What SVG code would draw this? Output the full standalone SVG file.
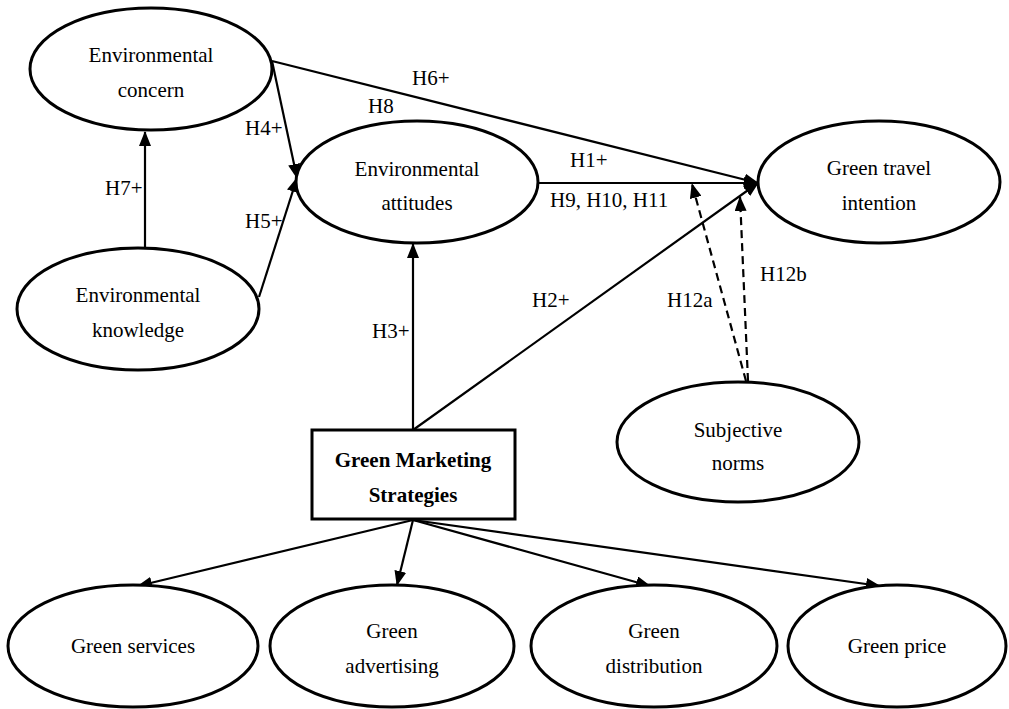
<svg xmlns="http://www.w3.org/2000/svg" width="1009" height="709" viewBox="0 0 1009 709">
<style>
.n{fill:#fff;stroke:#000;stroke-width:3}
.t{font-family:"Liberation Serif","Times New Roman",serif;font-size:21px;fill:#000;text-anchor:middle}
.l{font-family:"Liberation Serif","Times New Roman",serif;font-size:21px;fill:#000}
.c{fill:none;stroke:#000;stroke-width:2.2}
.d{stroke-dasharray:8 5}
</style>
<defs>
<marker id="ah" markerUnits="userSpaceOnUse" markerWidth="15" markerHeight="12" refX="14" refY="6" orient="auto">
<path d="M0,0 L15,6 L0,12 Z" fill="#000"/>
</marker>
</defs>
<rect width="1009" height="709" fill="#fff"/>
<g id="connectors">
<line class="c" x1="145" y1="248" x2="145" y2="132" marker-end="url(#ah)"/>
<line class="c" x1="272" y1="61" x2="297" y2="178" marker-end="url(#ah)"/>
<line class="c" x1="259" y1="297" x2="297" y2="178" marker-end="url(#ah)"/>
<line class="c" x1="272" y1="61" x2="758" y2="183" marker-end="url(#ah)"/>
<line class="c" x1="538" y1="183" x2="758" y2="183" marker-end="url(#ah)"/>
<line class="c" x1="413" y1="430" x2="758" y2="183" marker-end="url(#ah)"/>
<line class="c" x1="413" y1="430" x2="413" y2="244" marker-end="url(#ah)"/>
<line class="c d" x1="746" y1="381" x2="692" y2="184" marker-end="url(#ah)"/>
<line class="c d" x1="748" y1="381" x2="740" y2="197" marker-end="url(#ah)"/>
<line class="c" x1="413" y1="520" x2="138" y2="586" marker-end="url(#ah)"/>
<line class="c" x1="413" y1="520" x2="397" y2="585" marker-end="url(#ah)"/>
<line class="c" x1="413" y1="520" x2="650" y2="586" marker-end="url(#ah)"/>
<line class="c" x1="413" y1="520" x2="880" y2="586" marker-end="url(#ah)"/>
</g>
<g id="labels">
<text class="l" x="105" y="195">H7+</text>
<text class="l" x="245" y="135">H4+</text>
<text class="l" x="245" y="228">H5+</text>
<text class="l" x="412" y="85">H6+</text>
<text class="l" x="368" y="113">H8</text>
<text class="l" x="570" y="167">H1+</text>
<text class="l" x="550" y="207">H9, H10, H11</text>
<text class="l" x="532" y="307">H2+</text>
<text class="l" x="667" y="307">H12a</text>
<text class="l" x="760" y="281">H12b</text>
<text class="l" x="372" y="338">H3+</text>
</g>
<g id="env-concern">
<ellipse class="n" cx="151" cy="69" rx="121" ry="61"/>
<text class="t" x="151" y="62">Environmental</text>
<text class="t" x="151" y="97">concern</text>
</g>
<g id="env-knowledge">
<ellipse class="n" cx="138" cy="309" rx="121" ry="61"/>
<text class="t" x="138" y="302">Environmental</text>
<text class="t" x="138" y="337">knowledge</text>
</g>
<g id="env-attitudes">
<ellipse class="n" cx="417" cy="182" rx="121" ry="61"/>
<text class="t" x="417" y="176">Environmental</text>
<text class="t" x="417" y="210">attitudes</text>
</g>
<g id="green-travel-intention">
<ellipse class="n" cx="879" cy="182" rx="121" ry="61"/>
<text class="t" x="879" y="175">Green travel</text>
<text class="t" x="879" y="210">intention</text>
</g>
<g id="subjective-norms">
<ellipse class="n" cx="738" cy="442" rx="121" ry="60"/>
<text class="t" x="738" y="437">Subjective</text>
<text class="t" x="738" y="470">norms</text>
</g>
<g id="green-marketing-strategies">
<rect class="n" x="312" y="430" width="203" height="89"/>
<text class="t" x="413" y="467" font-weight="bold">Green Marketing</text>
<text class="t" x="413" y="502" font-weight="bold">Strategies</text>
</g>
<g id="green-services">
<ellipse class="n" cx="133" cy="646" rx="125" ry="61"/>
<text class="t" x="133" y="653">Green services</text>
</g>
<g id="green-advertising">
<ellipse class="n" cx="392" cy="646" rx="122" ry="61"/>
<text class="t" x="392" y="638">Green</text>
<text class="t" x="392" y="673">advertising</text>
</g>
<g id="green-distribution">
<ellipse class="n" cx="654" cy="646" rx="123" ry="61"/>
<text class="t" x="654" y="638">Green</text>
<text class="t" x="654" y="673">distribution</text>
</g>
<g id="green-price">
<ellipse class="n" cx="897" cy="646" rx="109" ry="61"/>
<text class="t" x="897" y="653">Green price</text>
</g>
</svg>
